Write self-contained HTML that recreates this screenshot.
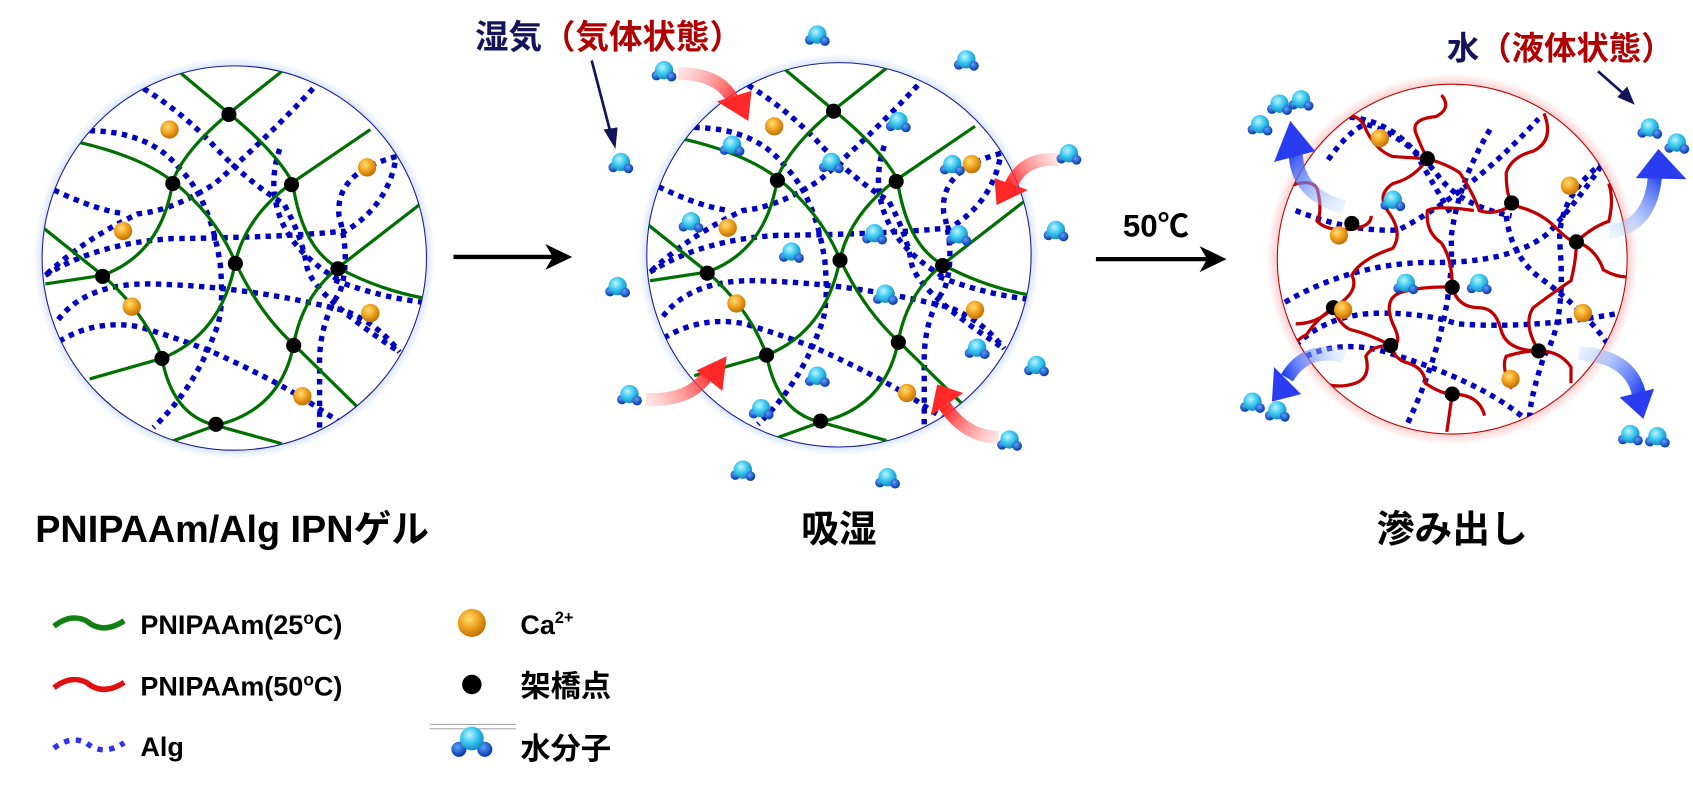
<!DOCTYPE html>
<html><head><meta charset="utf-8"><style>
html,body{margin:0;padding:0;background:#fff;}
svg{display:block;}
text{font-family:"Liberation Sans","Noto Sans CJK JP",sans-serif;font-weight:bold;}
</style></head><body>
<svg width="1693" height="786" viewBox="0 0 1568 728" preserveAspectRatio="none" xmlns="http://www.w3.org/2000/svg">
<defs>
<radialGradient id="ca" cx="0.4" cy="0.35" r="0.7"><stop offset="0" stop-color="#ffe070"/><stop offset="0.5" stop-color="#f0a020"/><stop offset="1" stop-color="#b86a00"/></radialGradient>
<radialGradient id="wb" cx="0.4" cy="0.35" r="0.7"><stop offset="0" stop-color="#bff4ff"/><stop offset="0.5" stop-color="#38c8f0"/><stop offset="1" stop-color="#1080b8"/></radialGradient>
<radialGradient id="hb" cx="0.4" cy="0.35" r="0.7"><stop offset="0" stop-color="#5aa0ff"/><stop offset="1" stop-color="#0030a0"/></radialGradient>
<radialGradient id="glowB" cx="0.5" cy="0.5" r="0.5"><stop offset="0.9" stop-color="#a8c8f0"/><stop offset="1" stop-color="#a8c8f0" stop-opacity="0"/></radialGradient>
<radialGradient id="glowR" cx="0.5" cy="0.5" r="0.5"><stop offset="0.88" stop-color="#f8a0a0"/><stop offset="1" stop-color="#f8a0a0" stop-opacity="0"/></radialGradient>
<g id="w"><circle cx="-7" cy="5" r="4.5" fill="url(#hb)"/><circle cx="0" cy="0" r="8.5" fill="url(#wb)"/><circle cx="7" cy="6" r="4.5" fill="url(#hb)"/></g>
<g id="c"><circle r="8.5" fill="url(#ca)"/></g>
<clipPath id="cp1"><circle cx="217" cy="239" r="178"/></clipPath>
<clipPath id="cp3"><circle cx="1345" cy="240" r="162"/></clipPath>
<g id="net">
 <g fill="none" stroke="#0000c0" stroke-width="5" stroke-dasharray="5,5">
  <path d="M133,82 Q170,105 199,136 T263,189 Q280,220 284,246 T370,326"/>
  <path d="M290,82 Q245,130 199,170 Q160,195 128,198 Q80,220 42,255"/>
  <path d="M83,121 Q140,122 167,157 Q195,185 204,245 Q208,290 199,308 Q180,360 142,396"/>
  <path d="M50,176 Q90,195 116,198"/>
  <path d="M42,255 Q90,225 160,221 Q260,220 320,214 Q360,190 367,145"/>
  <path d="M367,145 Q310,160 314,200 Q325,240 315,270 Q295,300 296,340 L296,403"/>
  <path d="M54,296 Q80,262 140,263 Q230,265 320,288 Q350,300 370,326"/>
  <path d="M392,280 Q350,275 309,259"/>
  <path d="M55,316 Q90,295 130,303 Q170,315 199,327 Q250,350 284,371 L313,390"/>
  <path d="M259,138 Q250,165 256,190 Q265,230 313,259"/>
 </g>
 <g fill="none" stroke="#007000" stroke-width="3">
  <path d="M163,64 L212,105 L265,63"/>
  <path d="M212,105 Q255,140 271,169"/>
  <path d="M212,105 Q170,140 160,168"/>
  <path d="M74,132 Q130,145 160,168"/>
  <path d="M160,168 Q150,235 95,255"/>
  <path d="M160,168 Q200,200 218,243"/>
  <path d="M271,169 L343,120"/>
  <path d="M271,169 Q228,200 218,243"/>
  <path d="M271,169 Q280,230 313,248"/>
  <path d="M313,248 L388,190"/>
  <path d="M313,248 Q350,268 392,276"/>
  <path d="M95,255 L40,211"/>
  <path d="M95,255 L42,263"/>
  <path d="M95,255 Q135,290 150,332"/>
  <path d="M218,243 Q240,290 272,319"/>
  <path d="M218,243 Q205,310 150,332"/>
  <path d="M313,248 Q280,275 272,319"/>
  <path d="M272,319 L330,376"/>
  <path d="M272,319 Q260,380 200,394"/>
  <path d="M150,332 L83,351"/>
  <path d="M150,332 Q160,385 200,394"/>
  <path d="M200,394 L150,412"/>
  <path d="M200,394 L261,411"/>
 </g>
 <g fill="#000">
  <circle cx="212" cy="106" r="7"/><circle cx="160" cy="170" r="7"/><circle cx="270" cy="171" r="7"/>
  <circle cx="218" cy="244" r="7"/><circle cx="313" cy="249" r="7"/><circle cx="95" cy="256" r="7"/>
  <circle cx="272" cy="320" r="7"/><circle cx="150" cy="332" r="7"/><circle cx="200" cy="393" r="7"/>
 </g>
 <g><use href="#c" x="157" y="120"/><use href="#c" x="340" y="155"/><use href="#c" x="114" y="214"/><use href="#c" x="122" y="284"/><use href="#c" x="343" y="290"/><use href="#c" x="280" y="367"/></g>
</g>
</defs>

<circle cx="217" cy="239" r="186" fill="url(#glowB)"/>
<circle cx="217" cy="239" r="178" fill="#fff" stroke="#1a1aa0" stroke-width="1"/>
<g clip-path="url(#cp1)"><use href="#net"/></g>

<line x1="420" y1="238" x2="520" y2="238" stroke="#000" stroke-width="4"/>
<polygon points="530,238 505,226 512,238 505,250" fill="#000"/>

<circle cx="777" cy="236" r="186" fill="url(#glowB)"/>
<circle cx="777" cy="236" r="178" fill="#fff" stroke="#1a1aa0" stroke-width="1"/>
<g transform="translate(560,-3)"><g clip-path="url(#cp1)"><use href="#net"/></g></g>
<g>
<use href="#w" x="678" y="134"/><use href="#w" x="770" y="150"/><use href="#w" x="832" y="112"/><use href="#w" x="640" y="205"/>
<use href="#w" x="733" y="233"/><use href="#w" x="810" y="216"/><use href="#w" x="888" y="217"/><use href="#w" x="820" y="272"/>
<use href="#w" x="905" y="322"/><use href="#w" x="757" y="348"/><use href="#w" x="705" y="378"/><use href="#w" x="882" y="152"/>
<use href="#w" x="757" y="32"/><use href="#w" x="895" y="55"/><use href="#w" x="615" y="65"/><use href="#w" x="575" y="150"/>
<use href="#w" x="990" y="142"/><use href="#w" x="978" y="213"/><use href="#w" x="572" y="265"/><use href="#w" x="583" y="365"/>
<use href="#w" x="960" y="338"/><use href="#w" x="935" y="407"/><use href="#w" x="688" y="435"/><use href="#w" x="822" y="442"/>
</g>
<defs>
<linearGradient id="ra1" gradientUnits="userSpaceOnUse" x1="628" y1="68" x2="685" y2="100"><stop offset="0" stop-color="#ff8080" stop-opacity="0.2"/><stop offset="1" stop-color="#ff2020"/></linearGradient>
<linearGradient id="ra2" gradientUnits="userSpaceOnUse" x1="980" y1="148" x2="935" y2="175"><stop offset="0" stop-color="#ff8080" stop-opacity="0.2"/><stop offset="1" stop-color="#ff2020"/></linearGradient>
<linearGradient id="ra3" gradientUnits="userSpaceOnUse" x1="598" y1="370" x2="660" y2="340"><stop offset="0" stop-color="#ff8080" stop-opacity="0.2"/><stop offset="1" stop-color="#ff2020"/></linearGradient>
<linearGradient id="ra4" gradientUnits="userSpaceOnUse" x1="925" y1="405" x2="875" y2="375"><stop offset="0" stop-color="#ff8080" stop-opacity="0.2"/><stop offset="1" stop-color="#ff2020"/></linearGradient>
</defs>
<path d="M628,68 Q668,68 680,95" fill="none" stroke="url(#ra1)" stroke-width="12"/>
<polygon points="664,94 696,84 693,112" fill="#ff2828"/>
<path d="M980,148 Q948,145 936,172" fill="none" stroke="url(#ra2)" stroke-width="12"/>
<polygon points="921,165 952,176 923,190" fill="#ff2828"/>
<path d="M598,370 Q640,372 656,346" fill="none" stroke="url(#ra3)" stroke-width="12"/>
<polygon points="645,343 673,330 669,362" fill="#ff2828"/>
<path d="M925,405 Q895,405 875,376" fill="none" stroke="url(#ra4)" stroke-width="12"/>
<polygon points="862,385 868,356 892,364" fill="#ff2828"/>

<line x1="1015" y1="240" x2="1125" y2="240" stroke="#000" stroke-width="4"/>
<polygon points="1136,240 1111,228 1118,240 1111,252" fill="#000"/>
<text x="1040" y="219" font-size="29">50℃</text>

<circle cx="1345" cy="240" r="172" fill="url(#glowR)"/>
<circle cx="1345" cy="240" r="162" fill="#fff" stroke="#c00000" stroke-width="1"/>
<g clip-path="url(#cp3)">
 <g fill="none" stroke="#0000c0" stroke-width="5" stroke-dasharray="5,5">
  <path d="M1230,108 Q1280,105 1310,140 Q1330,175 1345,200"/>
  <path d="M1200,195 Q1250,215 1295,213 Q1360,180 1425,110"/>
  <path d="M1230,148 Q1250,120 1265,115 Q1300,125 1330,160 Q1350,190 1400,200"/>
  <path d="M1380,120 Q1350,170 1344,220 Q1348,300 1300,400"/>
  <path d="M1190,280 Q1250,245 1320,243 Q1400,245 1435,215 Q1470,175 1485,150"/>
  <path d="M1485,150 Q1440,185 1445,230 Q1450,300 1430,330 Q1410,390 1420,400"/>
  <path d="M1200,320 Q1230,290 1280,290 Q1320,290 1350,300 Q1420,305 1500,290"/>
  <path d="M1210,330 Q1240,315 1280,325 Q1380,355 1420,395"/>
  <path d="M1395,200 Q1400,240 1430,260 Q1470,290 1490,320"/>
 </g>
 <g fill="none" stroke="#c00000" stroke-width="3">
  <path d="M1335,88 Q1345,100 1330,108 Q1305,110 1312,125 Q1318,140 1322,147 Q1310,165 1290,170 Q1275,180 1285,195 Q1300,215 1290,230 Q1260,240 1252,255 Q1260,270 1235,285 Q1220,300 1200,300"/>
  <path d="M1220,108 Q1260,100 1265,120 Q1275,140 1290,145 L1322,147 Q1340,152 1352,160 Q1365,180 1370,195 Q1385,200 1400,190"/>
  <path d="M1195,172 Q1215,165 1220,175 Q1225,195 1220,205 Q1230,215 1252,212 Q1270,210 1270,200"/>
  <path d="M1400,190 Q1425,195 1440,210 Q1455,225 1460,224 Q1478,230 1485,250 Q1500,258 1510,256"/>
  <path d="M1430,105 Q1440,130 1420,140 Q1400,145 1395,160 Q1395,180 1400,188"/>
  <path d="M1460,224 Q1475,210 1490,205 Q1495,185 1490,170"/>
  <path d="M1345,266 Q1345,240 1335,225 Q1320,215 1322,195 Q1330,190 1365,195"/>
  <path d="M1345,266 Q1320,265 1300,270 Q1280,275 1290,300 Q1300,320 1288,320 Q1270,320 1265,330 Q1270,350 1255,355 Q1240,360 1225,355"/>
  <path d="M1345,266 Q1350,285 1370,285 Q1385,285 1390,305 Q1395,325 1425,325 Q1445,325 1455,340 L1455,355"/>
  <path d="M1235,285 Q1240,300 1250,305 Q1270,310 1288,320"/>
  <path d="M1235,285 Q1220,295 1210,310 Q1200,315 1200,320"/>
  <path d="M1288,320 Q1290,330 1300,335 Q1320,340 1320,355 Q1335,365 1345,365 Q1370,365 1375,385"/>
  <path d="M1345,365 L1340,400"/>
  <path d="M1425,325 Q1410,300 1420,285 Q1440,270 1455,260 Q1460,240 1460,224"/>
  <path d="M1400,360 Q1390,340 1395,330 Q1410,325 1425,325"/>
 </g>
 <g fill="#000">
  <circle cx="1322" cy="147" r="7"/><circle cx="1400" cy="188" r="7"/><circle cx="1252" cy="207" r="7"/><circle cx="1460" cy="224" r="7"/>
  <circle cx="1345" cy="266" r="7"/><circle cx="1235" cy="285" r="7"/><circle cx="1288" cy="320" r="7"/><circle cx="1425" cy="325" r="7"/><circle cx="1345" cy="365" r="7"/>
 </g>
 <use href="#c" x="1278" y="128"/><use href="#c" x="1454" y="172"/><use href="#c" x="1240" y="218"/><use href="#c" x="1244" y="287"/><use href="#c" x="1466" y="290"/><use href="#c" x="1399" y="351"/>
 <use href="#w" x="1290" y="185"/><use href="#w" x="1302" y="262"/><use href="#w" x="1370" y="262"/>
</g>
<use href="#w" x="1185" y="96"/><use href="#w" x="1205" y="92"/><use href="#w" x="1167" y="115"/>
<use href="#w" x="1528" y="118"/><use href="#w" x="1553" y="132"/>
<use href="#w" x="1160" y="372"/><use href="#w" x="1183" y="380"/>
<use href="#w" x="1510" y="402"/><use href="#w" x="1535" y="404"/>
<defs>
<linearGradient id="ba1" gradientUnits="userSpaceOnUse" x1="1245" y1="190" x2="1195" y2="140"><stop offset="0" stop-color="#c0e0ff" stop-opacity="0.3"/><stop offset="1" stop-color="#2040f0"/></linearGradient>
<linearGradient id="ba2" gradientUnits="userSpaceOnUse" x1="1490" y1="215" x2="1535" y2="160"><stop offset="0" stop-color="#c0e0ff" stop-opacity="0.3"/><stop offset="1" stop-color="#2040f0"/></linearGradient>
<linearGradient id="ba3" gradientUnits="userSpaceOnUse" x1="1245" y1="330" x2="1190" y2="350"><stop offset="0" stop-color="#c0e0ff" stop-opacity="0.3"/><stop offset="1" stop-color="#2040f0"/></linearGradient>
<linearGradient id="ba4" gradientUnits="userSpaceOnUse" x1="1460" y1="325" x2="1520" y2="365"><stop offset="0" stop-color="#c0e0ff" stop-opacity="0.3"/><stop offset="1" stop-color="#2040f0"/></linearGradient>
</defs>
<path d="M1245,192 Q1200,180 1200,140" fill="none" stroke="url(#ba1)" stroke-width="13"/>
<polygon points="1180,150 1195,112 1218,140" fill="#2a3cf0"/>
<path d="M1490,215 Q1530,210 1533,160" fill="none" stroke="url(#ba2)" stroke-width="13"/>
<polygon points="1515,165 1536,138 1562,166" fill="#2a3cf0"/>
<path d="M1245,330 Q1210,320 1192,350" fill="none" stroke="url(#ba3)" stroke-width="13"/>
<polygon points="1180,340 1178,372 1205,365" fill="#2a3cf0"/>
<path d="M1462,327 Q1510,330 1518,365" fill="none" stroke="url(#ba4)" stroke-width="13"/>
<polygon points="1500,368 1532,360 1522,388" fill="#2a3cf0"/>

<text x="440" y="45" font-size="31" fill="#14145a">湿気<tspan fill="#b00000">（気体状態）</tspan></text>
<line x1="548" y1="56" x2="566" y2="125" stroke="#14145a" stroke-width="2.5"/>
<polygon points="570,138 559,120 572,118" fill="#14145a"/>
<text x="1340" y="55" font-size="30" fill="#14145a">水<tspan fill="#b00000">（液体状態）</tspan></text>
<line x1="1480" y1="66" x2="1505" y2="88" stroke="#14145a" stroke-width="2.5"/>
<polygon points="1514,97 1498,90 1507,80" fill="#14145a"/>

<text x="215" y="502" font-size="35" text-anchor="middle">PNIPAAm/Alg IPNゲル</text>
<text x="777" y="502" font-size="35" text-anchor="middle">吸湿</text>
<text x="1345" y="502" font-size="35" text-anchor="middle">滲み出し</text>

<path d="M50,580 Q65,568 80,575 Q95,588 115,575" fill="none" stroke="#108010" stroke-width="5"/>
<path d="M50,637 Q65,625 80,632 Q95,645 115,632" fill="none" stroke="#e01010" stroke-width="5"/>
<path d="M50,693 Q65,681 80,688 Q95,701 115,688" fill="none" stroke="#3030f0" stroke-width="5" stroke-dasharray="5,6"/>
<text x="130" y="587" font-size="25">PNIPAAm(25<tspan font-size="16" dy="-9">o</tspan><tspan dy="9">C)</tspan></text>
<text x="130" y="644" font-size="25">PNIPAAm(50<tspan font-size="16" dy="-9">o</tspan><tspan dy="9">C)</tspan></text>
<text x="130" y="700" font-size="25">Alg</text>
<circle cx="437" cy="577" r="13" fill="url(#ca)"/>
<circle cx="437" cy="634" r="9" fill="#000"/>
<line x1="398" y1="671" x2="478" y2="671" stroke="#aaa" stroke-width="1"/>
<line x1="398" y1="675" x2="478" y2="675" stroke="#aaa" stroke-width="1"/>
<circle cx="425" cy="694" r="7" fill="url(#hb)"/><circle cx="449" cy="694" r="7" fill="url(#hb)"/><circle cx="437" cy="684" r="11" fill="url(#wb)"/>
<text x="482" y="587" font-size="25">Ca<tspan font-size="15" dy="-10">2+</tspan></text>
<text x="482" y="645" font-size="28">架橋点</text>
<text x="482" y="703" font-size="28">水分子</text>
</svg>
</body></html>
